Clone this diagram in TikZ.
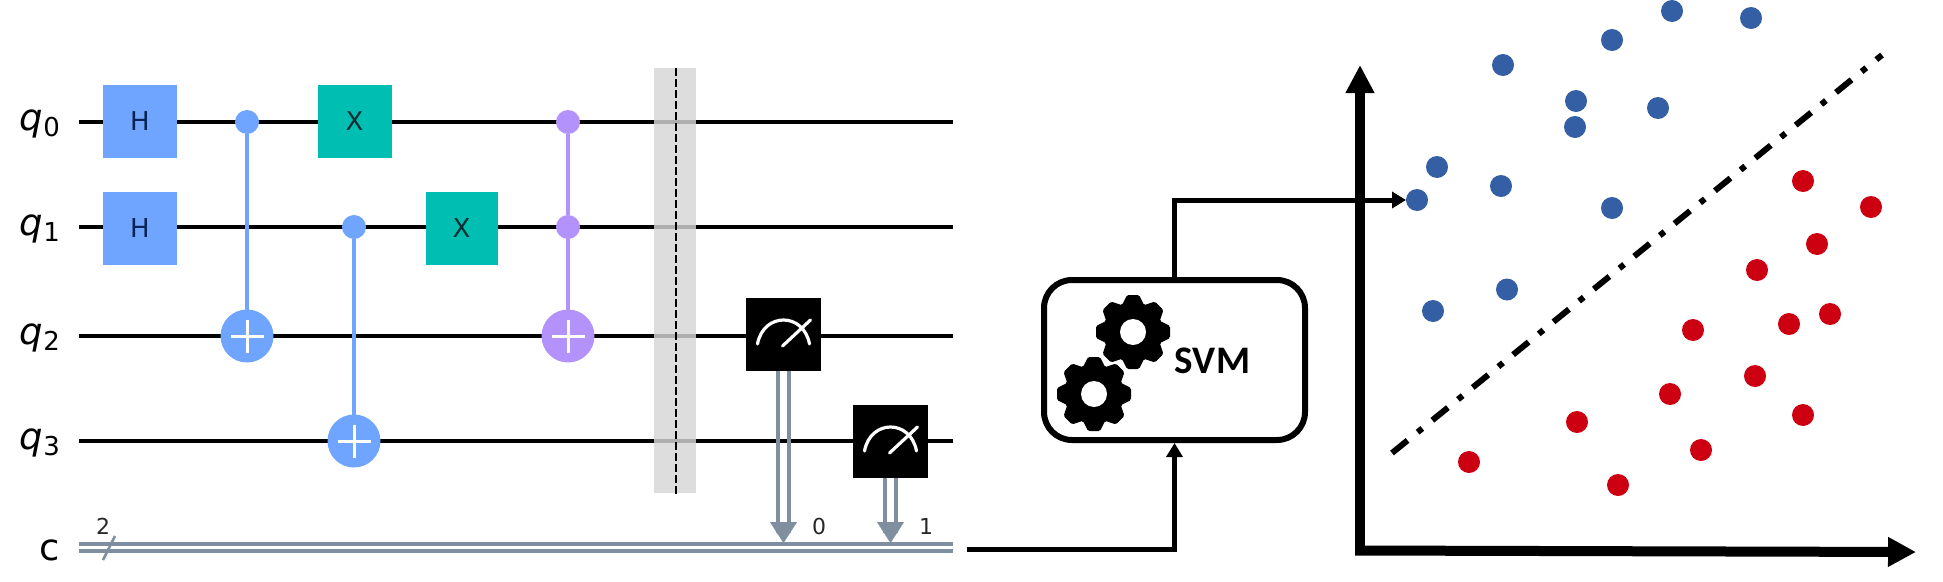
\documentclass[tikz,border=0pt]{standalone}
\usepackage{fontspec}
\setmainfont{DejaVu Sans}
\newfontfamily\svmfont{Carlito}
\usetikzlibrary{arrows.meta}
\definecolor{hblue}{HTML}{6FA4FF}
\definecolor{xteal}{HTML}{00BFB2}
\definecolor{ccxpurple}{HTML}{B392FB}
\definecolor{cwire}{HTML}{7F8FA0}
\definecolor{ptblue}{HTML}{355FA5}
\definecolor{ptred}{HTML}{CC0011}
\definecolor{barriergray}{HTML}{D6D6D6}
\newcommand{\gearat}[2]{%
  \begin{scope}[shift={(#1,#2)}]
    \fill (0,0) circle[radius=30];
    \foreach \a in {0,45,...,315}{
      \fill[rotate=\a,rounded corners=1.5pt] (-11,-27)--(-6,-37)--(6,-37)--(11,-27)--cycle;
    }
    \fill[white] (0,0) circle[radius=13];
  \end{scope}}
\newcommand{\meterat}[1]{%
  \begin{scope}[shift={(#1.center)}]
    \draw[white,line width=3.2pt,line cap=round] (-26,10) .. controls (-20,-22) and (20,-22) .. (26,10);
    \draw[white,line width=3.2pt,line cap=round] (-1,12) -- (27,-14);
  \end{scope}}
\tikzset{
  wire/.style={black,line width=4.5pt},
  classical/.style={draw=cwire,line width=4pt,double=white,double distance=3.5pt},
  measline/.style={cwire,line width=4pt},
  gatebox/.style={minimum width=#1,minimum height=73pt,inner sep=0pt,outer sep=0pt,font=\fontsize{26}{26}\selectfont},
  hgate/.style={gatebox=74pt,fill=hblue,text={rgb,255:red,10;green,35;blue,85}},
  xgate/.style={gatebox=74pt,fill=xteal,text={rgb,255:red,8;green,45;blue,50}},
  meter/.style={gatebox=75pt,fill=black},
  dotctl/.style={circle,fill=#1,minimum size=24pt,inner sep=0pt,outer sep=0pt},
  target/.style={circle,fill=#1,minimum size=53pt,inner sep=0pt,outer sep=0pt},
  ctlline/.style={#1,line width=4pt},
  qlabel/.style={anchor=base east,inner sep=0pt,font=\fontsize{37}{37}\selectfont},
  smalllabel/.style={inner sep=0pt,font=\fontsize{22}{22}\selectfont,text={rgb,255:red,40;green,40;blue,40}},
  axis/.style={black,line width=10pt},
  bluept/.style={circle,fill=ptblue,minimum size=22pt,inner sep=0pt,outer sep=0pt},
  redpt/.style={circle,fill=ptred,minimum size=22pt,inner sep=0pt,outer sep=0pt},
  flow/.style={black,line width=5pt,-{Triangle[length=14pt,width=16pt]}},
}
\newcommand{\qlab}[3]{\node[qlabel] (#1) at (60,#2) {{\itshape q}\raisebox{-6pt}{\fontsize{26}{26}\selectfont #3}};}
\begin{document}
\begin{tikzpicture}[x=1pt,y=-1pt]
\useasboundingbox (0,0) rectangle (1943,581);
\fill[white] (0,0) rectangle (1943,581);
% wire ends
\foreach \n/\y in {0/122,1/227,2/336,3/441}{
  \coordinate (ws\n) at (79,\y);
  \coordinate (we\n) at (953,\y);
  \draw[wire] (ws\n) -- (we\n);
}
\coordinate (cs) at (79,547.5);
\coordinate (ce) at (953,547.5);
\draw[classical] (cs) -- (ce);
% labels
\qlab{l0}{130}{0}
\qlab{l1}{235}{1}
\qlab{l2}{344}{2}
\qlab{l3}{449}{3}
\node[anchor=base east,inner sep=0pt,font=\fontsize{37}{37}\selectfont] (lc) at (60,560) {c};
\node[smalllabel] (two) at (103,526) {2};
\coordinate (sl1) at (103,560);
\coordinate (sl2) at (115,536);
\draw[cwire,line width=2.5pt] (sl1) -- (sl2);
% barrier
\node[fill=barriergray,opacity=.82,minimum width=42pt,minimum height=425pt,inner sep=0pt,outer sep=0pt] (bar) at (675,280.5) {};
\coordinate (bt) at (676,68);
\coordinate (bb) at (676,496);
\draw[black,line width=2.2pt,dash pattern=on 8pt off 3pt] (bt) -- (bb);
% gates
\node[hgate] (h0) at (140,121) {H};
\node[hgate] (h1) at (140,228) {H};
\node[xgate] (x0) at (354.5,121) {X};
\node[xgate,minimum width=72pt] (x1) at (461.5,228) {X};
% cx 1
\node[dotctl=hblue] (c1) at (247,122) {};
\node[target=hblue] (t1) at (247,336) {};
\draw[ctlline=hblue] (c1) -- (t1);
% cx 2
\node[dotctl=hblue] (c2) at (354,227) {};
\node[target=hblue] (t2) at (354,441) {};
\draw[ctlline=hblue] (c2) -- (t2);
% ccx
\node[dotctl=ccxpurple] (c3) at (568,122) {};
\node[dotctl=ccxpurple] (c4) at (568,227) {};
\node[target=ccxpurple] (t3) at (568,336) {};
\draw[ctlline=ccxpurple] (c3) -- (c4);
\draw[ctlline=ccxpurple] (c4) -- (t3);
\foreach \t in {t1,t2,t3}{
  \draw[white,line width=3pt] ([xshift=-16.5pt]\t.center) -- ([xshift=16.5pt]\t.center);
  \draw[white,line width=3pt] ([yshift=-16.5pt]\t.center) -- ([yshift=16.5pt]\t.center);
}
% measures
\node[meter] (m1) at (783.5,334) {};
\node[meter] (m2) at (890.5,441) {};
\meterat{m1}
\meterat{m2}
\coordinate (hit1) at (783.5,543);
\coordinate (hit2) at (890.5,543);
\foreach \m/\h in {m1/hit1,m2/hit2}{
  \draw[measline] ([xshift=-5.5pt]\m.south) -- ([xshift=-5.5pt,yshift=10pt]\h);
  \draw[measline] ([xshift=5.5pt]\m.south) -- ([xshift=5.5pt,yshift=10pt]\h);
  \draw[cwire,line width=.1pt,-{Triangle[length=21pt,width=27pt]}] ([yshift=21pt]\h) -- (\h);
}
\node[smalllabel] (n0) at (819,526) {0};
\node[smalllabel] (n1) at (926,526) {1};
% SVM box
\node[draw=black,fill=white,line width=6pt,rounded corners=28pt,minimum width=261pt,minimum height=160pt,inner sep=0pt] (svm) at (1174.5,360) {};
\gearat{1133}{332}
\gearat{1094}{394}
\node[inner sep=0pt,font=\svmfont\bfseries\fontsize{39}{39}\selectfont] (svmt) at (1212.5,361) {SVM};
% plot points
\foreach \n/\x/\y in {a/1672/11,b/1751/18,d/1612/40,e/1503/65,f/1576/101,g/1575/127,h/1658/108,i/1437/167,j/1417/200,k/1501/186,l/1612/208,m/1507/289.5,n/1433/311}{
  \node[bluept] (b\n) at (\x,\y) {};
}
\foreach \n/\x/\y in {a/1803/181,b/1871/207,d/1817/244,e/1757/270,f/1693/330,g/1789/324,h/1830/314,i/1755/376,j/1670/394,k/1803/415,l/1577/422,m/1701/450,n/1469/462,o/1618/485}{
  \node[redpt] (r\n) at (\x,\y) {};
}
% axes
\coordinate (org) at (1360,555);
\coordinate (ytip) at (1360,65);
\coordinate (orgb) at (1355,550.5);
\coordinate (xtip) at (1916,552);
\draw[axis,-{Triangle[length=28pt,width=27pt]}] (org) -- (ytip);
\draw[axis,-{Triangle[length=28pt,width=28pt]}] (orgb) -- (xtip);
% separator
\coordinate (s1) at (1392,453);
\coordinate (s2) at (1882,55);
\draw[black,line width=6pt,dash pattern=on 20pt off 13pt on 6pt off 13pt] (s1) -- (s2);
% flow
\coordinate (cout) at (967,549);
\draw[flow] (cout) -| (svm.south);
\draw[flow] (svm.north) |- (bj.west);
\end{tikzpicture}
\end{document}
